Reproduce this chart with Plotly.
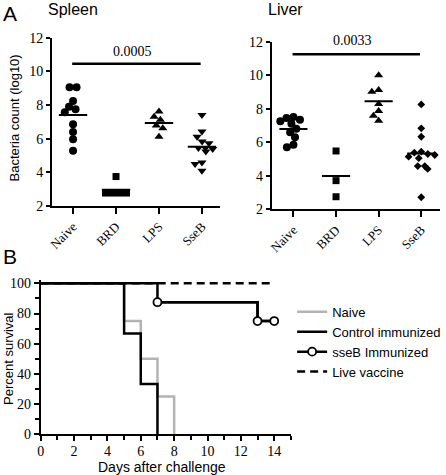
import plotly.graph_objects as go

# ---------------- data ----------------
categories = ["Naive", "BRD", "LPS", "SseB"]

spleen_naive = [9.05, 9.05, 8.24, 7.90, 7.75, 7.57, 6.86, 6.39, 5.97, 5.28]
spleen_brd = [3.75, 2.77, 2.77, 2.77, 2.77]
spleen_lps = [7.61, 7.31, 7.12, 6.78, 6.62, 6.12]
spleen_sseb = [7.41, 6.42, 6.12, 5.83, 5.73, 5.44, 5.44, 5.38, 5.24, 4.58, 4.50, 4.09]

liver_naive = [7.50, 7.45, 7.35, 7.25, 7.10, 6.80, 6.60, 6.30, 5.85, 5.70]
liver_brd = [5.48, 3.71, 2.75]
liver_lps = [10.0, 9.12, 9.02, 8.28, 7.86, 7.58, 7.29]
liver_sseb = [8.26, 6.83, 6.33, 5.44, 5.38, 5.30, 5.24, 5.14, 5.05, 4.58, 4.58, 4.41, 2.72]

spleen_pvalue = "0.0005"
liver_pvalue = "0.0033"

days_naive = [0, 5, 6, 7, 8]
surv_naive = [100, 75, 50, 25, 0]
days_control = [0, 5, 6, 7]
surv_control = [100, 66.7, 33.3, 0]
days_sseb = [0, 7, 13, 14]
surv_sseb = [100, 87.5, 75, 75]
censored_sseb = [False, True, True, True]
days_live = [0, 14]
surv_live = [100, 100]

# ---------------- layout geometry ----------------
W, H = 446, 475
SERIF = "Liberation Serif"
SANS = "Liberation Sans"

sp_xdom = [52 / W, 220 / W]
sp_ydom = [1 - 206 / H, 1 - 37.7 / H]
lv_xdom = [271.7 / W, 440 / W]
lv_ydom = [1 - 209.3 / H, 1 - 41.7 / H]
sv_xdom = [40.7 / W, 290.9 / W]
sv_ydom = [1 - 434.3 / H, 1 - 280.3 / H]

sp_xr = [-0.49, 3.42]
lv_xr = [-0.51, 3.44]
yr = [2, 12]


def scale(xdom, ydom, xr, yrange):
    ppx = (xdom[1] - xdom[0]) * W / (xr[1] - xr[0])
    ppy = (ydom[1] - ydom[0]) * H / (yrange[1] - yrange[0])
    return ppx, ppy


def to_paper(v, dom, rng):
    return dom[0] + (v - rng[0]) / (rng[1] - rng[0]) * (dom[1] - dom[0])


def beeswarm(values, ppx, ppy, d):
    placed = []
    offs = [0.0] * len(values)
    order = sorted(range(len(values)), key=lambda i: -values[i])
    for i in order:
        y = values[i] * ppy
        cands = [0.0]
        for (xp, yp) in placed:
            dy = abs(y - yp)
            if dy < d:
                dx = (d * d - dy * dy) ** 0.5
                cands += [xp + dx, xp - dx]
        cands.sort(key=lambda c: (abs(c), c))
        for c in cands:
            if all((c - xp) ** 2 + (y - yp) ** 2 >= d * d - 1e-6 for xp, yp in placed):
                offs[i] = c
                placed.append((c, y))
                break
    # re-centre groups of identical values
    groups = {}
    for i, v in enumerate(values):
        groups.setdefault(v, []).append(i)
    for v, idx in groups.items():
        if len(idx) > 1:
            m = sum(offs[i] for i in idx) / len(idx)
            for i in idx:
                offs[i] -= m
    return [o / ppx for o in offs]


fig = go.Figure()
shapes = []
annotations = []

panels = [
    ("x", "y", sp_xdom, sp_ydom, sp_xr,
     [spleen_naive, spleen_brd, spleen_lps, spleen_sseb],
     [("circle", 8), ("square", 7), ("triangle-up", 8), ("triangle-down", 8)],
     spleen_pvalue, 10.45, 11.2),
    ("x2", "y2", lv_xdom, lv_ydom, lv_xr,
     [liver_naive, liver_brd, liver_lps, liver_sseb],
     [("circle", 8), ("square", 7), ("triangle-up", 8), ("diamond", 6)],
     liver_pvalue, 11.25, 12.1),
]

for xa, ya, xdom, ydom, xr, groups, syms, pval, bar_y, txt_y in panels:
    ppx, ppy = scale(xdom, ydom, xr, yr)
    for ci, (vals, (sym, sz)) in enumerate(zip(groups, syms)):
        offs = beeswarm(vals, ppx, ppy, 7.0)
        fig.add_trace(go.Scatter(
            x=[ci + o for o in offs], y=vals, mode="markers",
            marker=dict(symbol=sym, size=sz, color="black", line=dict(width=0)),
            xaxis=xa, yaxis=ya, showlegend=False, cliponaxis=False))
        mean = sum(vals) / len(vals)
        shapes.append(dict(type="line", xref=xa, yref=ya, x0=ci - 0.33, x1=ci + 0.33,
                           y0=mean, y1=mean, line=dict(color="black", width=2)))
    shapes.append(dict(type="line", xref=xa, yref=ya, x0=-0.02, x1=2.97,
                       y0=bar_y, y1=bar_y, line=dict(color="black", width=2.5)))
    annotations.append(dict(xref="paper", yref="paper",
                            x=to_paper(1.38, xdom, xr), y=to_paper(txt_y, ydom, yr),
                            text=pval, showarrow=False, xanchor="center", yanchor="middle",
                            font=dict(family=SERIF, size=14, color="black")))

# survival curves
GRAY = "#b3b3b3"
fig.add_trace(go.Scatter(x=days_naive, y=surv_naive, mode="lines", line_shape="hv",
                         line=dict(color=GRAY, width=2.5), name="Naive",
                         xaxis="x3", yaxis="y3"))
fig.add_trace(go.Scatter(x=days_control, y=surv_control, mode="lines", line_shape="hv",
                         line=dict(color="black", width=2.5), name="Control immunized",
                         xaxis="x3", yaxis="y3"))
fig.add_trace(go.Scatter(x=days_sseb, y=surv_sseb, mode="lines", line_shape="hv",
                         line=dict(color="black", width=2.5), showlegend=False,
                         xaxis="x3", yaxis="y3"))
cx = [d for d, c in zip(days_sseb, censored_sseb) if c]
cy = [s for s, c in zip(surv_sseb, censored_sseb) if c]
fig.add_trace(go.Scatter(x=cx, y=cy, mode="lines+markers", line_shape="hv",
                         line=dict(color="black", width=2.5),
                         marker=dict(symbol="circle", size=8, color="white",
                                     line=dict(color="black", width=1.8)),
                         name="sseB Immunized", xaxis="x3", yaxis="y3", cliponaxis=False))
fig.add_trace(go.Scatter(x=days_live, y=surv_live, mode="lines",
                         line=dict(color="black", width=2.5, dash="8px,5px"),
                         name="Live vaccine", xaxis="x3", yaxis="y3"))

axis_common = dict(showgrid=False, zeroline=False, showline=True, linecolor="black",
                   linewidth=2, ticks="outside", tickcolor="black", tickwidth=2,
                   automargin=False)
tf_a_y = dict(family=SERIF, size=14, color="black")
tf_a_x = dict(family=SERIF, size=13, color="black")
tf_b = dict(family=SERIF, size=14, color="black")


def label(x, y, text, size, angle=0, family=SANS):
    return dict(xref="paper", yref="paper", x=x / W, y=1 - y / H, text=text,
                showarrow=False, textangle=angle, xanchor="center", yanchor="middle",
                font=dict(family=family, size=size, color="black"))


annotations += [
    label(73, 9.5, "Spleen", 16),
    label(285, 9.5, "Liver", 16),
    label(10, 13, "A", 21),
    label(10, 256, "B", 21),
    label(14, 118.5, "Bacteria count (log10)", 13, -90),
    label(8.5, 358.5, "Percent survival", 13, -90),
    label(162, 467, "Days after challenge", 14),
]

fig.update_layout(
    width=W, height=H, margin=dict(l=0, r=0, t=0, b=0, autoexpand=False),
    paper_bgcolor="white", plot_bgcolor="white",
    shapes=shapes, annotations=annotations,
    xaxis=dict(domain=sp_xdom, range=sp_xr, tickvals=[0, 1, 2, 3], ticktext=categories,
               tickangle=-45, ticklen=6, anchor="y", tickfont=tf_a_x, **axis_common),
    yaxis=dict(domain=sp_ydom, range=yr, dtick=2, ticklen=4, anchor="x",
               tickfont=tf_a_y, **axis_common),
    xaxis2=dict(domain=lv_xdom, range=lv_xr, tickvals=[0, 1, 2, 3], ticktext=categories,
                tickangle=-45, ticklen=6, anchor="y2", tickfont=tf_a_x, **axis_common),
    yaxis2=dict(domain=lv_ydom, range=yr, dtick=2, ticklen=4, anchor="x2",
                tickfont=tf_a_y, **axis_common),
    xaxis3=dict(domain=sv_xdom, range=[0, 15], dtick=2, tick0=0, ticklen=5, anchor="y3",
                ticklabelstandoff=-2,
                minor=dict(dtick=1, tick0=0, ticklen=4, tickwidth=2, ticks="outside",
                           tickcolor="black"),
                tickfont=tf_b, **axis_common),
    yaxis3=dict(domain=sv_ydom, range=[0, 102], tickvals=[0, 20, 40, 60, 80, 100],
                ticklen=5, anchor="x3",
                minor=dict(tickvals=[10, 30, 50, 70, 90], ticklen=4, tickwidth=2,
                           ticks="outside", tickcolor="black"),
                tickfont=tf_b, **axis_common),
    legend=dict(x=0.655, y=0.375, xanchor="left", yanchor="top",
                bgcolor="rgba(0,0,0,0)", itemwidth=30,
                font=dict(family=SANS, size=13, color="black"), tracegroupgap=0),
)

fig.write_html("out.html", config={"displayModeBar": False},
               post_script="document.body.style.margin='0px';")
